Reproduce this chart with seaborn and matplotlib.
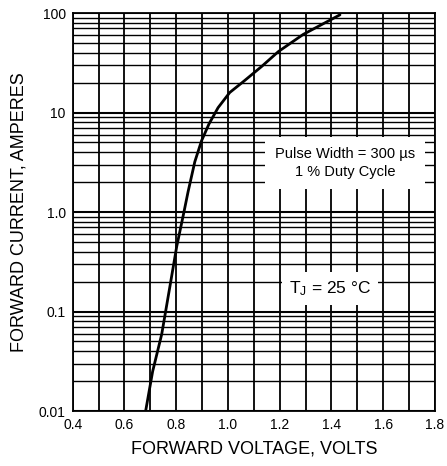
import numpy as np
import pandas as pd
import matplotlib
matplotlib.use("Agg")
import matplotlib.pyplot as plt
import seaborn as sns
from matplotlib.ticker import FixedLocator, NullFormatter

# Data
voltage = [0.682, 0.709, 0.744, 0.776, 0.802, 0.830, 0.846, 0.872, 0.898,
           0.927, 0.962, 1.007, 1.059, 1.130, 1.195, 1.291, 1.433]
current = [0.01, 0.025, 0.059, 0.18, 0.45, 1.0, 1.6, 3.2, 5.2,
           7.7, 11.2, 15.9, 20.4, 29, 41, 61, 96]
x_ticks = [0.4, 0.6, 0.8, 1.0, 1.2, 1.4, 1.6, 1.8]
x_tick_labels = ["0.4", "0.6", "0.8", "1.0", "1.2", "1.4", "1.6", "1.8"]
y_ticks = [0.01, 0.1, 1.0, 10, 100]
y_tick_labels = ["0.01", "0.1", "1.0", "10", "100"]

sns.set_style("white")
plt.rcParams["font.family"] = ["Liberation Sans", "DejaVu Sans"]
plt.rcParams["mathtext.fontset"] = "custom"
plt.rcParams["mathtext.rm"] = "Liberation Sans"
plt.rcParams["mathtext.it"] = "Liberation Sans"
plt.rcParams["text.color"] = "black"
plt.rcParams["axes.labelcolor"] = "black"
plt.rcParams["xtick.color"] = "black"
plt.rcParams["ytick.color"] = "black"

fig = plt.figure(figsize=(4.47, 4.66), dpi=100)
ax = fig.add_axes([0.1626, 0.118, 0.8104, 0.854])

df = pd.DataFrame({"V": voltage, "I": current})
sns.lineplot(data=df, x="V", y="I", ax=ax, color="black", linewidth=2.0,
             sort=False, zorder=5)

ax.set_yscale("log")
ax.set_xlim(0.4, 1.8)
ax.set_ylim(0.01, 100)

ax.set_xticks(x_ticks)
ax.set_xticklabels(x_tick_labels)
ax.set_yticks(y_ticks)
ax.set_yticklabels(y_tick_labels)
ax.xaxis.set_minor_locator(FixedLocator(np.arange(0.5, 1.8, 0.2)))
minor_y = [m * 10.0 ** e for e in range(-2, 2) for m in range(2, 10)]
ax.yaxis.set_minor_locator(FixedLocator(minor_y))
ax.yaxis.set_minor_formatter(NullFormatter())
ax.tick_params(which="both", length=0, labelsize=10, pad=5)

ax.grid(which="major", axis="x", color="black", linewidth=1.3)
ax.grid(which="minor", axis="x", color="black", linewidth=1.3)
ax.grid(which="major", axis="y", color="black", linewidth=1.5)
ax.grid(which="minor", axis="y", color="black", linewidth=1.0)
ax.set_axisbelow(True)
for s in ax.spines.values():
    s.set_color("black")
    s.set_linewidth(1.3)

ax.set_xlabel("FORWARD VOLTAGE, VOLTS", fontsize=13, labelpad=6)
ax.set_ylabel("FORWARD CURRENT, AMPERES", fontsize=13, labelpad=8)

ax.text(1.452, 3.1, "Pulse Width = 300 µs\n1 % Duty Cycle", ha="center",
        va="center", fontsize=10.5, linespacing=1.35, zorder=6,
        bbox=dict(facecolor="white", edgecolor="none", pad=7))
ax.text(1.394, 0.17, r"T$_\mathrm{J}$ = 25 °C", ha="center", va="center",
        fontsize=12.5, zorder=6,
        bbox=dict(facecolor="white", edgecolor="none", pad=5))

fig.savefig("out.png", dpi=100)
